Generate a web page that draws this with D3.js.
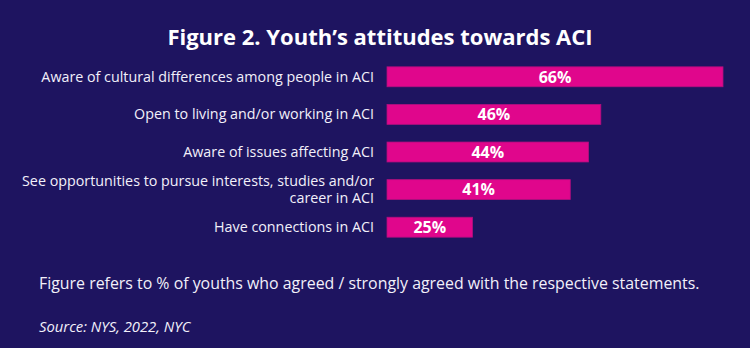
<!DOCTYPE html>
<html><head><meta charset="utf-8">
<script src="https://cdn.jsdelivr.net/npm/d3@7"></script>
<style>html,body{margin:0;padding:0;background:#1e1460;}svg{display:block;}</style>
</head><body>
<svg id="c" width="750" height="348"></svg>
<script>
const categories = [
  ["Aware of cultural differences among people in ACI"],
  ["Open to living and/or working in ACI"],
  ["Aware of issues affecting ACI"],
  ["See opportunities to pursue interests, studies and/or", "career in ACI"],
  ["Have connections in ACI"]
];
const values = [66, 46, 44, 41, 25];
const valueLabels = ["66%", "46%", "44%", "41%", "25%"];
const title = "Figure 2. Youth\u2019s attitudes towards ACI";
const note = "Figure refers to % of youths who agreed / strongly agreed with the respective statements.";
const source = "Source: NYS, 2022, NYC";

const svg = d3.select("#c");
const W = 750, H = 348;
svg.append("rect").attr("width", W).attr("height", H).attr("fill", "#1e1460");

const font = "'Open Sans', 'Noto Sans', sans-serif";

svg.append("text").attr("x", 380).attr("y", 45).attr("text-anchor", "middle")
  .attr("fill", "#ffffff").attr("font-family", font).attr("font-weight", 700)
  .attr("font-size", 22).text(title);

const idx = d3.range(values.length);
const y = d3.scaleBand().domain(idx).range([58, 246]).paddingInner(0.47).paddingOuter(0.235);
const x = d3.scaleLinear().domain([11, 66]).range([387, 723]);

const g = svg.append("g");
g.selectAll("rect.bar").data(idx).join("rect").attr("class", "bar")
  .attr("x", x(11)).attr("y", i => y(i)).attr("width", i => x(values[i]) - x(11))
  .attr("height", y.bandwidth()).attr("fill", "#e0068c")
  .attr("stroke", "#b0107e").attr("stroke-width", 0.8);

g.selectAll("text.val").data(idx).join("text").attr("class", "val")
  .attr("x", i => (x(11) + x(values[i])) / 2).attr("y", i => y(i) + y.bandwidth() / 2)
  .attr("dy", "0.36em").attr("text-anchor", "middle").attr("fill", "#ffffff")
  .attr("font-family", font).attr("font-weight", 700).attr("font-size", 16)
  .text(i => valueLabels[i]);

const lab = g.selectAll("text.lab").data(idx).join("text").attr("class", "lab")
  .attr("text-anchor", "end").attr("fill", "#f2f0fa").attr("font-family", font)
  .attr("font-size", 14.3);
lab.each(function(i) {
  const lines = categories[i];
  const cy = y(i) + y.bandwidth() / 2;
  const lh = 17.5;
  d3.select(this).selectAll("tspan").data(lines).join("tspan")
    .attr("x", 374)
    .attr("y", (d, k) => cy + (k - (lines.length - 1) / 2) * lh)
    .attr("dy", "0.35em").text(d => d);
});

svg.append("text").attr("x", 39).attr("y", 289).attr("fill", "#f2f0fa")
  .attr("font-family", font).attr("font-size", 15.9).text(note);
svg.append("text").attr("x", 39).attr("y", 332).attr("fill", "#f2f0fa")
  .attr("font-family", font).attr("font-style", "italic").attr("font-size", 14.8).text(source);
</script>
</body></html>
